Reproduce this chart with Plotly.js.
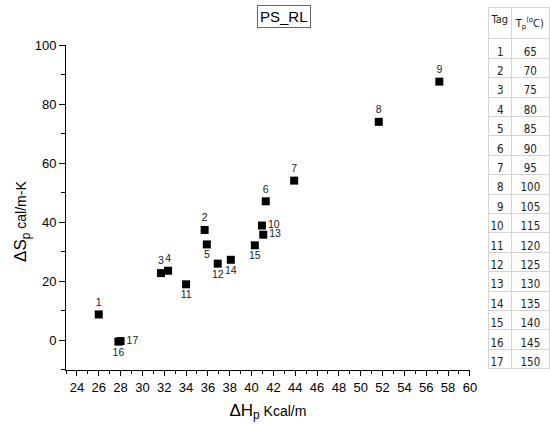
<!DOCTYPE html>
<html>
<head>
<meta charset="utf-8">
<script src="https://cdn.plot.ly/plotly-3.0.1.min.js"></script>
<style>html,body{margin:0;padding:0;background:#fff;}#chart{width:550px;height:432px;}</style>
</head>
<body>
<div id="chart"></div>
<script>
// Data
const tags = [1, 2, 3, 4, 5, 6, 7, 8, 9, 10, 11, 12, 13, 14, 15, 16, 17];
const deltaH = [26.0, 35.7, 31.7, 32.35, 35.9, 41.3, 43.9, 51.65, 57.2, 40.95, 34.0, 36.9, 41.07, 38.1, 40.3, 27.8, 28.0];
const deltaS = [8.8, 37.4, 22.8, 23.6, 32.5, 47.1, 54.1, 74.0, 87.6, 38.9, 19.0, 26.0, 35.8, 27.3, 32.2, -0.4, -0.2];
const tempTp = [65, 70, 75, 80, 85, 90, 95, 100, 105, 115, 120, 125, 130, 135, 140, 145, 150];
const tableHeader = ['Tag', 'T<sub>p</sub><sup>(o</sup>C)'];
const chartTitle = 'PS_RL';
const xTitle = '<span style="font-size:17px">ΔH<sub>p</sub></span> Kcal/m';
const yTitle = '<span style="font-size:17px">ΔS<sub>p</sub></span> cal/m-K';

// label placement (style)
const labelPos = ['top center','top center','top center','top center','bottom center','top center','top center','top center','top center',
  'middle right','bottom center','bottom center','middle right','bottom center','bottom center','bottom center','middle right'];

const FONT = "Arial, 'Liberation Sans', sans-serif";
const NARROW = "'Liberation Sans Narrow', 'DejaVu Sans Condensed', Arial, sans-serif";

const scatter = {
  type: 'scatter', mode: 'markers+text',
  x: deltaH, y: deltaS,
  text: tags.map(String),
  textposition: labelPos,
  textfont: {family: FONT, size: 10.5, color: '#222'},
  marker: {symbol: 'square', size: 8, color: '#000'},
  cliponaxis: false,
  showlegend: false
};

const table = {
  type: 'table',
  domain: {x: [0.872, 1], y: [0, 1]},
  columnwidth: [24, 38],
  header: {
    values: tableHeader,
    align: ['center', 'center'],
    height: 28,
    font: {family: NARROW, size: 11, color: '#222'},
    fill: {color: '#fff'},
    line: {color: '#d4d4d4', width: 1}
  },
  cells: {
    values: [tags.map(String), tempTp.map(String)],
    align: ['right', 'center'],
    height: 19.4,
    font: {family: NARROW, size: 11.5, color: '#222'},
    fill: {color: '#fff'},
    line: {color: '#d4d4d4', width: 1}
  }
};

const layout = {
  width: 550, height: 432,
  margin: {l: 66, r: 0, t: 7, b: 62},
  paper_bgcolor: '#fff', plot_bgcolor: '#fff',
  font: {family: FONT, size: 13, color: '#000'},
  showlegend: false,
  xaxis: {
    domain: [0, 0.8345],
    range: [23, 60],
    dtick: 2, tick0: 0,
    ticks: 'outside', ticklen: 5, tickwidth: 1, tickcolor: '#000',
    minor: {dtick: 1, ticks: 'outside', ticklen: 3, tickcolor: '#000', showgrid: false},
    showline: true, linecolor: '#000', linewidth: 1,
    showgrid: false, zeroline: false,
    tickfont: {family: FONT, size: 13, color: '#000'},
    title: {text: xTitle, font: {family: FONT, size: 14, color: '#000'}, standoff: 12}
  },
  yaxis: {
    domain: [0, 0.8953],
    range: [-10, 100],
    dtick: 20, tick0: 0,
    ticks: 'outside', ticklen: 6, tickwidth: 1, tickcolor: '#000',
    minor: {dtick: 10, ticks: 'outside', ticklen: 4, tickcolor: '#000', showgrid: false},
    showline: true, linecolor: '#000', linewidth: 1,
    showgrid: false, zeroline: false,
    tickfont: {family: FONT, size: 13, color: '#000'}
  },
  annotations: [{
    xref: 'paper', yref: 'paper', x: 0.4507, y: 0.9725,
    xanchor: 'center', yanchor: 'middle',
    text: chartTitle, showarrow: false,
    font: {family: FONT, size: 15, color: '#000'},
    bordercolor: '#666', borderwidth: 1, borderpad: 2, bgcolor: '#fff'
  }, {
    xref: 'paper', yref: 'paper', x: 0, y: 0.408, xshift: -44,
    xanchor: 'center', yanchor: 'middle', textangle: -90,
    text: yTitle, showarrow: false,
    font: {family: FONT, size: 14, color: '#000'}
  }]
};

Plotly.newPlot('chart', [scatter, table], layout, {displayModeBar: false, staticPlot: true});
</script>
</body>
</html>
